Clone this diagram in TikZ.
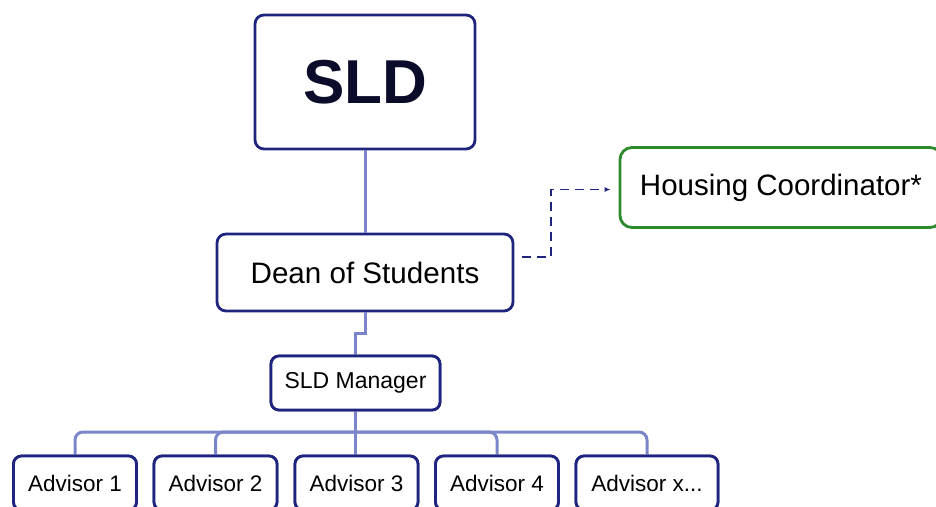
\documentclass[tikz,border=0pt]{standalone}
\usepackage{fontspec}
\setmainfont{Liberation Sans}
\usetikzlibrary{arrows.meta}
\definecolor{navy}{HTML}{1F247F}
\definecolor{lav}{HTML}{7B86CA}
\definecolor{hgreen}{HTML}{2C8A2C}
\definecolor{ink}{HTML}{0B0B2A}
\tikzset{
  box/.style={draw=navy, line width=2.8pt, rounded corners=9pt, fill=white, inner sep=0pt, align=center},
  mgrbox/.style={box, rounded corners=8pt, minimum width=169pt, minimum height=54pt, font=\fontsize{23pt}{27pt}\selectfont},
  advbox/.style={box, rounded corners=8pt, minimum width=123pt, minimum height=54pt, font=\fontsize{22.5pt}{26pt}\selectfont},
  conn/.style={draw=lav, line width=3pt},
  dasharrow/.style={draw=navy, line width=1.5pt, dash pattern=on 9pt off 6pt, -{Latex[length=6pt,width=5pt]}}
}
\begin{document}
\begin{tikzpicture}[x=1pt,y=-1pt]
\useasboundingbox (0,0) rectangle (936,506);
% nodes
\node[box, minimum width=220pt, minimum height=134pt, font=\fontsize{62pt}{70pt}\selectfont\bfseries, text=ink] (sld) at (365,82) {SLD};
\node[box, minimum width=296pt, minimum height=77pt, font=\fontsize{29.6pt}{34pt}\selectfont] (dean) at (365,272.5) {Dean of Students};
\node[box, draw=hgreen, rounded corners=12pt, minimum width=322pt, minimum height=80pt, font=\fontsize{29.5pt}{34pt}\selectfont] (hc) at (781,187.5) {Housing Coordinator*};
\node[mgrbox] (mgr) at (355.5,383) {SLD Manager};
\node[advbox] (a1) at (75,483) {Advisor 1};
\node[advbox] (a2) at (215.5,483) {Advisor 2};
\node[advbox] (a3) at (356.5,483) {Advisor 3};
\node[advbox] (a4) at (497,483) {Advisor 4};
\node[advbox, minimum width=142pt] (a5) at (647,483) {Advisor x...};
\coordinate (ds) at (522,257);
\coordinate (bus) at (355.5,432);
% connectors
\draw[conn] (sld.south) -- (dean.north);
\draw[conn] (dean.south) -- ++(0,21) -| (mgr.north);
\draw[conn] (mgr.south) -- (mgr.south |- a3.north);
\draw[conn, rounded corners=8pt] (bus) -| (a1.north);
\draw[conn, rounded corners=8pt] (bus) -| (a2.north);
\draw[conn, rounded corners=8pt] (bus) -| (a4.north);
\draw[conn, rounded corners=8pt] (bus) -| (a5.north);
\draw[dasharrow] (ds) -- ++(29,0) |- ([xshift=-8pt,yshift=-2pt]hc.west);
% redraw boxes on top of connectors
\node[mgrbox] at (mgr) {SLD Manager};
\node[advbox] at (a1) {Advisor 1};
\node[advbox] at (a2) {Advisor 2};
\node[advbox] at (a3) {Advisor 3};
\node[advbox] at (a4) {Advisor 4};
\node[advbox, minimum width=142pt] at (a5) {Advisor x...};
\end{tikzpicture}
\end{document}
